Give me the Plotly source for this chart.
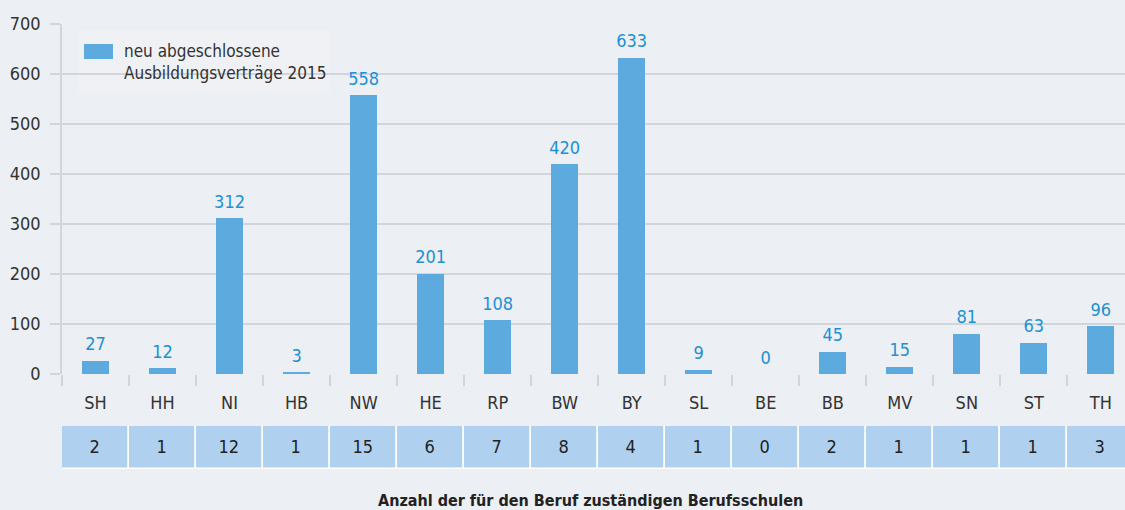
import plotly.graph_objects as go

# Bundesländer
laender = ['SH', 'HH', 'NI', 'HB', 'NW', 'HE', 'RP', 'BW', 'BY', 'SL', 'BE', 'BB', 'MV', 'SN', 'ST', 'TH']
# neu abgeschlossene Ausbildungsverträge 2015
vertraege = [27, 12, 312, 3, 558, 201, 108, 420, 633, 9, 0, 45, 15, 81, 63, 96]
# Anzahl der zuständigen Berufsschulen
schulen = [2, 1, 12, 1, 15, 6, 7, 8, 4, 1, 0, 2, 1, 1, 1, 3]
y_ticks = [0, 100, 200, 300, 400, 500, 600, 700]

W, H = 1125, 510
L = 62
FONT = "DejaVu Sans Condensed, Liberation Sans Narrow, sans-serif"
BG = "#ECEFF3"
GRID = "#D2D5D9"
BAR = "#5DABDE"
LABEL = "#1D90D6"
CELL = "#AFD1EF"


def fx(px):
    return (px - L) / (W - L)


def fy(py):
    return 1 - py / H


fig = go.Figure()

# main bars
fig.add_trace(go.Bar(x=laender, y=vertraege, width=0.4, marker=dict(color=BAR, line=dict(width=0)),
                     hoverinfo="x+y", showlegend=False))
# value labels above bars
fig.add_trace(go.Scatter(x=laender, y=vertraege, mode="markers+text", text=[str(v) for v in vertraege],
                         textposition="top center", marker=dict(size=8, opacity=0),
                         textfont=dict(family=FONT, size=18, color=LABEL), showlegend=False, hoverinfo="skip"))
# table row with number of schools
fig.add_trace(go.Bar(x=laender, y=[1] * len(laender), width=1, xaxis="x2", yaxis="y2",
                     marker=dict(color=CELL, line=dict(color="white", width=1.5)),
                     text=[str(s) for s in schulen], textposition="inside", insidetextanchor="middle",
                     textangle=0, constraintext="none",
                     textfont=dict(family=FONT, size=18, color="#222222"), showlegend=False, hoverinfo="skip"))

fig.update_layout(
    width=W, height=H, autosize=False,
    margin=dict(l=L, r=0, t=0, b=0, autoexpand=False),
    paper_bgcolor=BG, plot_bgcolor=BG,
    font=dict(family=FONT, size=18, color="#333333"),
    xaxis=dict(type="category", range=[-0.5, 15.36], tickson="boundaries", ticks="outside", ticklen=11,
               tickcolor=GRID, tickwidth=1.5, showgrid=False, showline=False, zeroline=False,
               ticklabelstandoff=16, anchor="y", fixedrange=True, automargin=False),
    yaxis=dict(domain=[fy(374), fy(24)], range=[0, 700], tickvals=y_ticks, ticks="outside", ticklen=10,
               tickcolor=GRID, tickwidth=1.5, gridcolor=GRID, gridwidth=1.5, showline=True, linecolor=GRID,
               linewidth=1.5, zeroline=False, ticklabelstandoff=6, fixedrange=True, automargin=False),
    xaxis2=dict(type="category", matches="x", anchor="y2", showticklabels=False, ticks="", showgrid=False,
                showline=False, zeroline=False, automargin=False),
    yaxis2=dict(domain=[fy(469), fy(426)], range=[0, 1], visible=False, automargin=False),
    bargap=0,
)

# legend drawn by hand
fig.add_shape(type="rect", xref="paper", yref="paper", x0=fx(78), x1=fx(330), y0=fy(92), y1=fy(30),
              fillcolor="#EFF1F5", line=dict(width=0), layer="below")
fig.add_shape(type="rect", xref="paper", yref="paper", x0=fx(84), x1=fx(113), y0=fy(59), y1=fy(44),
              fillcolor=BAR, line=dict(width=0))
fig.add_annotation(xref="paper", yref="paper", x=fx(122), y=fy(39), xanchor="left", yanchor="top",
                   text="neu abgeschlossene<br>Ausbildungsverträge 2015", align="left", showarrow=False,
                   font=dict(family=FONT, size=17, color="#333333"))

fig.add_annotation(xref="paper", yref="paper", x=fx(590), y=fy(500), xanchor="center", yanchor="middle",
                   text="<b>Anzahl der für den Beruf zuständigen Berufsschulen</b>", showarrow=False,
                   font=dict(family=FONT, size=16, color="#222222"))

fig.write_html("out.html", config={"displayModeBar": False},
               post_script="document.body.style.margin='0';document.body.style.overflow='hidden';")
